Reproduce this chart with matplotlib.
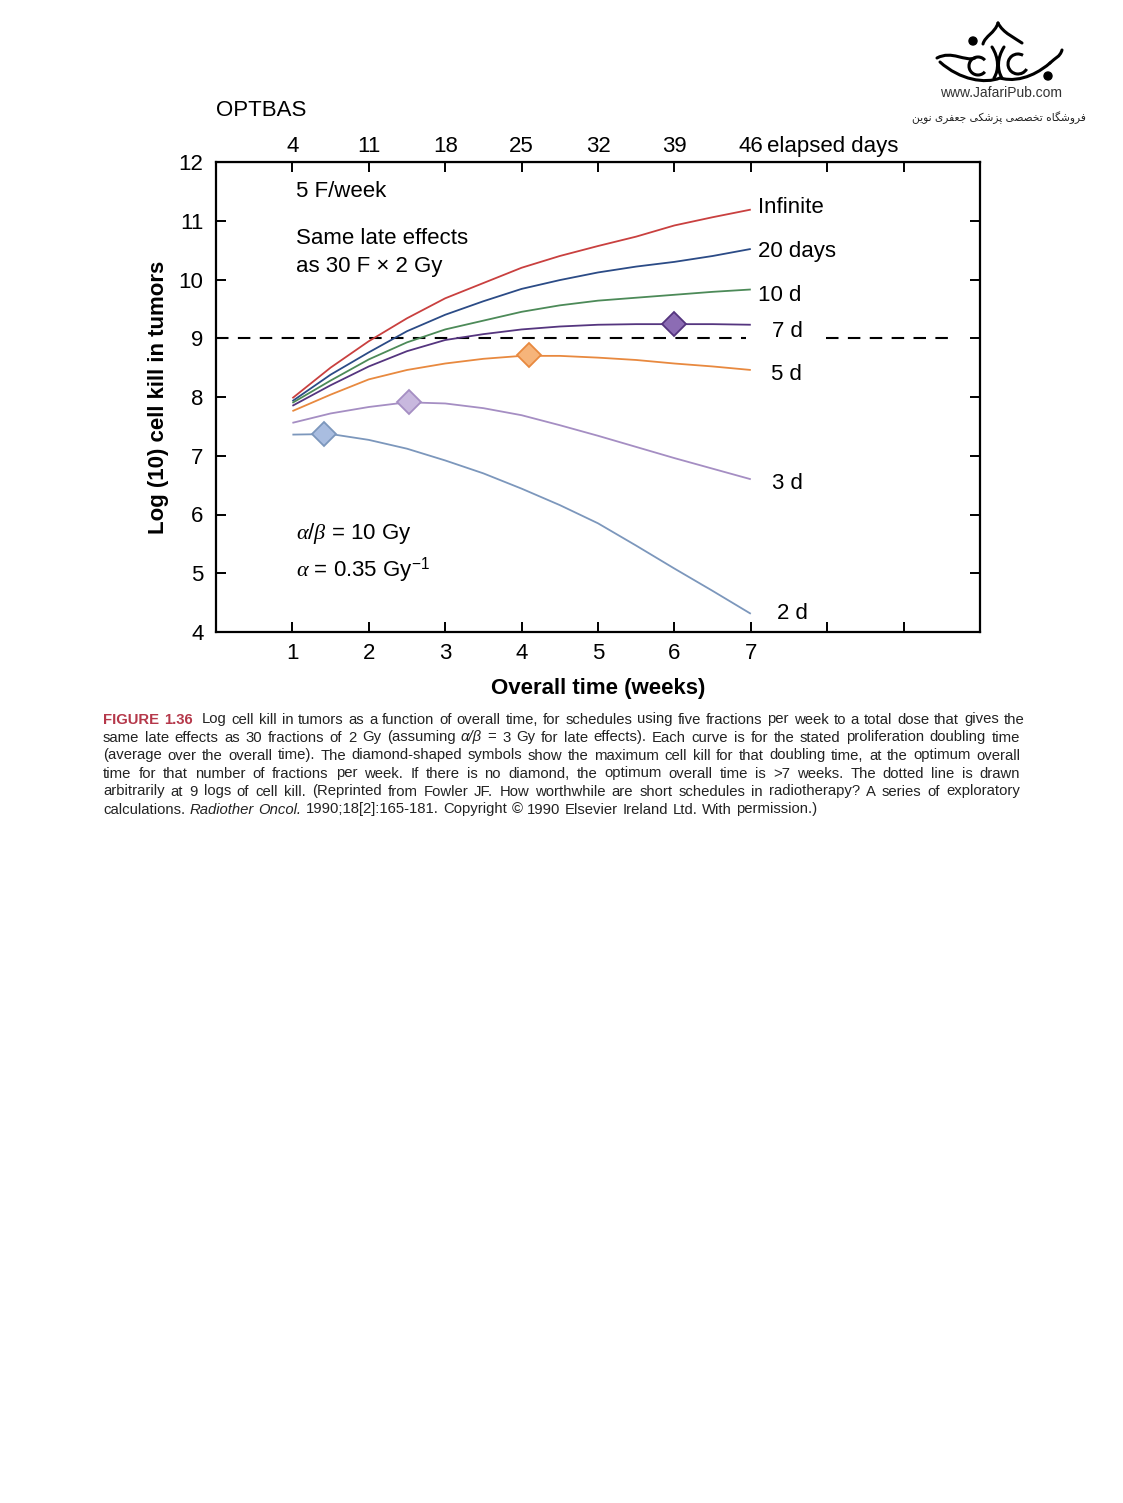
import matplotlib
matplotlib.use("Agg")
import matplotlib.pyplot as plt
import matplotlib.transforms as mtransforms
from matplotlib.path import Path
from matplotlib.patches import PathPatch, Arc, Circle

plt.rcParams['font.family'] = ['Liberation Sans', 'DejaVu Sans']
plt.rcParams['mathtext.fontset'] = 'custom'
plt.rcParams['mathtext.rm'] = 'Liberation Sans'
plt.rcParams['mathtext.it'] = 'Liberation Serif:italic'

# overall time in weeks
weeks = [1, 1.5, 2, 2.5, 3, 3.5, 4, 4.5, 5, 5.5, 6, 6.5, 7]
kill_infinite = [7.98, 8.50, 8.95, 9.34, 9.68, 9.94, 10.20, 10.40, 10.57, 10.73, 10.92, 11.06, 11.19]
kill_20d = [7.93, 8.38, 8.76, 9.12, 9.40, 9.63, 9.84, 9.99, 10.12, 10.22, 10.30, 10.40, 10.52]
kill_10d = [7.90, 8.28, 8.64, 8.93, 9.15, 9.30, 9.45, 9.56, 9.64, 9.69, 9.74, 9.79, 9.83]
kill_7d = [7.85, 8.20, 8.52, 8.78, 8.97, 9.07, 9.15, 9.20, 9.23, 9.24, 9.24, 9.24, 9.23]
kill_5d = [7.76, 8.04, 8.30, 8.46, 8.57, 8.65, 8.70, 8.70, 8.67, 8.63, 8.57, 8.52, 8.46]
kill_3d = [7.56, 7.72, 7.83, 7.91, 7.89, 7.81, 7.69, 7.52, 7.34, 7.15, 6.96, 6.78, 6.60]
kill_2d = [7.36, 7.37, 7.27, 7.12, 6.92, 6.70, 6.44, 6.16, 5.85, 5.47, 5.08, 4.70, 4.31]

curve_names = ["Infinite", "20 days", "10 d", "7 d", "5 d", "3 d", "2 d"]

# optimum (diamond) points: 7 d, 5 d, 3 d, 2 d
opt_weeks = [6.0, 4.1, 2.52, 1.42]
opt_kill = [9.24, 8.71, 7.91, 7.37]

week_ticks = [1, 2, 3, 4, 5, 6, 7, 8, 9]
week_labels = ["1", "2", "3", "4", "5", "6", "7", "", ""]
day_labels = ["4", "11", "18", "25", "32", "39", "46", "", ""]
threshold = 9

caption_lines = [
    "FIGURE 1.36  Log cell kill in tumors as a function of overall time, for schedules using five fractions per week to a total dose that gives the",
    "same late effects as 30 fractions of 2 Gy (assuming α/β = 3 Gy for late effects). Each curve is for the stated proliferation doubling time",
    "(average over the overall time). The diamond-shaped symbols show the maximum cell kill for that doubling time, at the optimum overall",
    "time for that number of fractions per week. If there is no diamond, the optimum overall time is >7 weeks. The dotted line is drawn",
    "arbitrarily at 9 logs of cell kill. (Reprinted from Fowler JF. How worthwhile are short schedules in radiotherapy? A series of exploratory",
    "calculations. Radiother Oncol. 1990;18[2]:165-181. Copyright © 1990 Elsevier Ireland Ltd. With permission.)",
]

line_colors = ['#c9403f', '#2b4b86', '#4c8a58', '#55357f', '#e8893f', '#a58ec3', '#7c97bc']
diamond_fill = ['#8c6cb4', '#f6b47a', '#c8b8de', '#a9bde0']
diamond_edge = ['#55357f', '#e8893f', '#a58ec3', '#7c97bc']

W, H = 1123, 1503
fig = plt.figure(figsize=(W / 100, H / 100), dpi=100)
ax = fig.add_axes([216 / W, 1 - 632 / H, 764 / W, 470 / H])

series = [kill_infinite, kill_20d, kill_10d, kill_7d, kill_5d, kill_3d, kill_2d]
for vals, c in zip(series, line_colors):
    ax.plot(weeks, vals, color=c, lw=1.3, solid_capstyle='butt', zorder=3)

for wk, kv, fc, ec in zip(opt_weeks, opt_kill, diamond_fill, diamond_edge):
    ax.plot(wk, kv, marker='D', ms=12, mfc=fc, mec=ec, mew=1.3, zorder=4)

# dashed 9-log line, broken around the "7 d" label
ax.plot([0, 6.94], [threshold, threshold], color='black', lw=1.5, ls=(0, (6, 4.5)), zorder=2)
ax.plot([7.98, 9.6], [threshold, threshold], color='black', lw=1.5, ls=(0, (6, 4.5)), zorder=2)

label_x = [7.10, 7.10, 7.10, 7.28, 7.27, 7.28, 7.34]
label_y = [11.22, 10.47, 9.72, 9.12, 8.38, 6.53, 4.31]
for name, lx, ly in zip(curve_names, label_x, label_y):
    ax.text(lx, ly, name, fontsize=16, ha='left', va='center')

ax.text(1.05, 11.50, "5 F/week", fontsize=16, ha='left', va='center')
ax.text(1.05, 10.46, "Same late effects\nas 30 F × 2 Gy", fontsize=16, ha='left', va='center',
        linespacing=1.4)
ax.text(1.05, 5.67, r"$\alpha/\beta$ = 10 Gy", fontsize=16, ha='left', va='center')
ax.text(1.05, 5.05, r"$\alpha$ = 0.35 Gy$^{-1}$", fontsize=16, ha='left', va='center')

ax.set_xlim(0, 10)
ax.set_ylim(4, 12)
ax.set_xticks(week_ticks, week_labels)
ax.set_yticks(range(4, 13))
ax.tick_params(direction='in', length=7, width=1.4, labelsize=16, pad=9,
               right=True, top=False)
ax.tick_params(axis='x', pad=8)
for s in ax.spines.values():
    s.set_linewidth(1.6)

top = ax.secondary_xaxis('top')
top.set_xticks(week_ticks, day_labels)
top.tick_params(direction='in', length=7, width=1.4, labelsize=16, pad=3.5)
ax.text(7.21, 1.021, "elapsed days", transform=ax.get_xaxis_transform(),
        fontsize=16, ha='left', va='baseline')

ax.set_xlabel("Overall time (weeks)", fontsize=16, fontweight='bold', labelpad=10)
ax.set_ylabel("Log (10) cell kill in tumors", fontsize=16, fontweight='bold', labelpad=7)

fig.text(216 / W, 1 - 110 / H, "OPTBAS", fontsize=16, ha='left', va='center')

# publisher mark, top right (rough sketch of the calligraphy)
px = mtransforms.IdentityTransform()


def flip(pts):
    return [(x, H - y) for x, y in pts]


C4 = Path.CURVE4
strokes = [
    ([(998, 23), (995, 33), (985, 36), (983, 44)], [Path.MOVETO, C4, C4, C4]),
    ([(998, 23), (1003, 33), (1015, 38), (1022, 43)], [Path.MOVETO, C4, C4, C4]),
    ([(937, 58), (952, 50), (965, 62), (975, 58)], [Path.MOVETO, C4, C4, C4]),
    ([(940, 62), (960, 80), (985, 84), (1000, 78)], [Path.MOVETO, C4, C4, C4]),
    ([(1000, 78), (1022, 84), (1042, 70), (1050, 63)], [Path.MOVETO, C4, C4, C4]),
    ([(1050, 63), (1055, 58), (1060, 57), (1062, 50)], [Path.MOVETO, C4, C4, C4]),
    ([(992, 47), (999, 58), (999, 70), (994, 78)], [Path.MOVETO, C4, C4, C4]),
    ([(1004, 47), (997, 58), (997, 70), (1002, 78)], [Path.MOVETO, C4, C4, C4]),
]
for pts, codes in strokes:
    fig.patches.append(PathPatch(Path(flip(pts), codes), transform=px, fill=False,
                                 lw=2.2, ec='black', capstyle='round'))
fig.patches.append(Arc((978, H - 66), 18, 18, theta1=40, theta2=320, transform=px,
                       lw=2.2, color='black'))
fig.patches.append(Arc((1018, H - 64), 20, 20, theta1=60, theta2=330, transform=px,
                       lw=2.2, color='black'))
fig.patches.append(Circle((973, H - 41), 4, transform=px, color='black'))
fig.patches.append(Circle((1048, H - 76), 4, transform=px, color='black'))

fig.text(1001 / W, 1 - 93 / H, "www.JafariPub.com", fontsize=10, color='#333333',
         ha='center', va='center')
persian = ("\ufed3\ufeae\ufeed\ufeb7\ufb95\ufe8e\ufee9 "
           "\ufe97\ufea8\ufebc\ufebc\ufef0 "
           "\ufb58\ufeb0\ufeb7\ufb91\ufef0 "
           "\ufe9f\ufecc\ufed4\ufeae\ufeef "
           "\ufee7\ufeee\ufef3\ufee6")
fig.text(999 / W, 1 - 118 / H, persian[::-1], fontsize=7.7, color='#222222',
         family=['DejaVu Sans'], ha='center', va='center')

# justified caption
renderer = fig.canvas.get_renderer()
x_left, x_right = 103, 1020
italic_words = {"α/β", "Radiother", "Oncol."}
for i, line in enumerate(caption_lines):
    words = line.split()
    y = H - (723.5 + 18 * i)
    texts = []
    for j, w in enumerate(words):
        kw = dict(fontsize=10.7, color='#222222')
        if i == 0 and j < 2:
            kw.update(color='#b5384a', fontweight='bold')
        if w in italic_words:
            kw.update(style='italic')
        texts.append(fig.text(0, y, w, transform=px, va='baseline', ha='left', **kw))
    widths = [t.get_window_extent(renderer).width for t in texts]
    space = texts[0].get_fontsize() * 100 / 72 * 0.3
    if i < len(caption_lines) - 1:
        gap = (x_right - x_left - sum(widths)) / (len(words) - 1)
    else:
        gap = space
    x = x_left
    for j, (t, w) in enumerate(zip(texts, widths)):
        if i == 0 and j == 2:
            x += space
        t.set_x(x)
        x += w + gap

fig.savefig("out.png", dpi=100)
